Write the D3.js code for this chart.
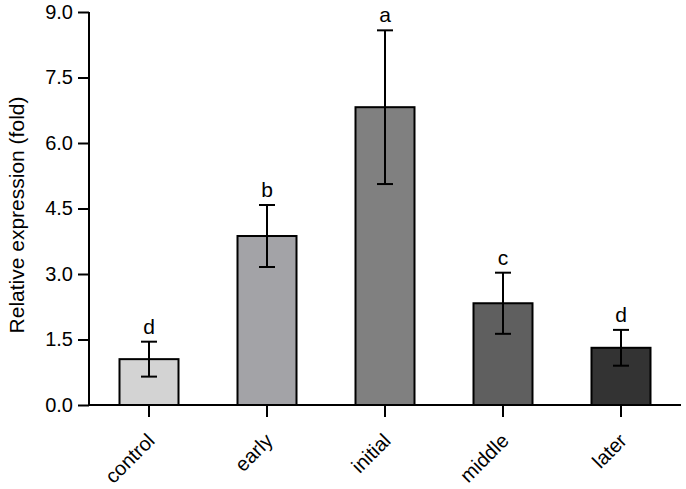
<!DOCTYPE html>
<html>
<head>
<meta charset="utf-8">
<script src="https://cdn.jsdelivr.net/npm/d3@7"></script>
<style>
  body { margin: 0; background: #fff; }
  text { font-family: "Liberation Sans", Arial, sans-serif; fill: #000; }
</style>
</head>
<body>
<div class="chart"></div>
<script>
var groups = ["control", "early", "initial", "middle", "later"];
var means = [1.05, 3.87, 6.82, 2.33, 1.31];
var errors = [0.40, 0.71, 1.76, 0.70, 0.41];
var letters = ["d", "b", "a", "c", "d"];
var barColors = ["#d3d3d3", "#a3a3a7", "#808080", "#5f5f5f", "#333333"];
var yTicks = [0, 1.5, 3.0, 4.5, 6.0, 7.5, 9.0];

var svgWidth = 686;
var svgHeight = 489;

var data = groups.map(function(g, i) {
  return { group: g, mean: means[i], err: errors[i], letter: letters[i], color: barColors[i] };
});

var svg = d3.select(".chart")
  .append("svg")
  .attr("width", svgWidth)
  .attr("height", svgHeight);

var xScale = d3.scaleBand()
  .domain(groups)
  .range([90, 680])
  .paddingInner(0.5)
  .paddingOuter(0.25);

var yScale = d3.scaleLinear()
  .domain([0, 9])
  .range([405, 12]);

// y axis
var leftAxis = d3.axisLeft(yScale)
  .tickValues(yTicks)
  .tickFormat(d3.format(".1f"))
  .tickSizeOuter(0)
  .tickSize(11)
  .tickPadding(5);

var yAxis = svg.append("g")
  .attr("transform", "translate(89, 0)")
  .call(leftAxis);

yAxis.select(".domain").attr("stroke-width", 2).attr("d", "M0,12V405");
yAxis.selectAll(".tick line").attr("stroke-width", 2);
yAxis.selectAll(".tick text")
  .style("font-size", "20px")
  .style("font-family", "'Liberation Sans', Arial, sans-serif");

// x axis
var bottomAxis = d3.axisBottom(xScale)
  .tickSizeOuter(0)
  .tickSize(12)
  .tickFormat("");

var xAxis = svg.append("g")
  .attr("transform", "translate(0, 405)")
  .call(bottomAxis);

xAxis.select(".domain").attr("stroke-width", 2).attr("d", "M89,0H681");
xAxis.selectAll(".tick line").attr("stroke-width", 2);

// rotated category labels
svg.selectAll(".xlabel")
  .data(data)
  .enter()
  .append("text")
  .attr("class", "xlabel")
  .attr("text-anchor", "end")
  .attr("transform", function(d) {
    var cx = xScale(d.group) + xScale.bandwidth() / 2;
    return "translate(" + (cx + 7) + ", 442) rotate(-45)";
  })
  .style("font-size", "20px")
  .text(function(d) { return d.group; });

// bars
svg.selectAll(".bar")
  .data(data)
  .enter()
  .append("rect")
  .attr("class", "bar")
  .attr("x", function(d) { return xScale(d.group); })
  .attr("y", function(d) { return yScale(d.mean); })
  .attr("width", xScale.bandwidth())
  .attr("height", function(d) { return yScale(0) - yScale(d.mean); })
  .attr("fill", function(d) { return d.color; })
  .attr("stroke", "#000")
  .attr("stroke-width", 2);

// error bars
var errG = svg.selectAll(".err")
  .data(data)
  .enter()
  .append("g")
  .attr("class", "err")
  .attr("stroke", "#000")
  .attr("stroke-width", 2);

errG.append("line")
  .attr("x1", function(d) { return xScale(d.group) + xScale.bandwidth() / 2; })
  .attr("x2", function(d) { return xScale(d.group) + xScale.bandwidth() / 2; })
  .attr("y1", function(d) { return yScale(d.mean - d.err); })
  .attr("y2", function(d) { return yScale(d.mean + d.err); });

errG.append("line")
  .attr("x1", function(d) { return xScale(d.group) + xScale.bandwidth() / 2 - 8; })
  .attr("x2", function(d) { return xScale(d.group) + xScale.bandwidth() / 2 + 8; })
  .attr("y1", function(d) { return yScale(d.mean + d.err); })
  .attr("y2", function(d) { return yScale(d.mean + d.err); });

errG.append("line")
  .attr("x1", function(d) { return xScale(d.group) + xScale.bandwidth() / 2 - 8; })
  .attr("x2", function(d) { return xScale(d.group) + xScale.bandwidth() / 2 + 8; })
  .attr("y1", function(d) { return yScale(d.mean - d.err); })
  .attr("y2", function(d) { return yScale(d.mean - d.err); });

// significance letters
svg.selectAll(".letter")
  .data(data)
  .enter()
  .append("text")
  .attr("class", "letter")
  .attr("x", function(d) { return xScale(d.group) + xScale.bandwidth() / 2; })
  .attr("y", function(d) { return yScale(d.mean + d.err) - 8; })
  .attr("text-anchor", "middle")
  .style("font-size", "21px")
  .text(function(d) { return d.letter; });

// y axis title
svg.append("text")
  .attr("transform", "translate(24, 215) rotate(-90)")
  .attr("text-anchor", "middle")
  .style("font-size", "21px")
  .text("Relative expression (fold)");
</script>
</body>
</html>
